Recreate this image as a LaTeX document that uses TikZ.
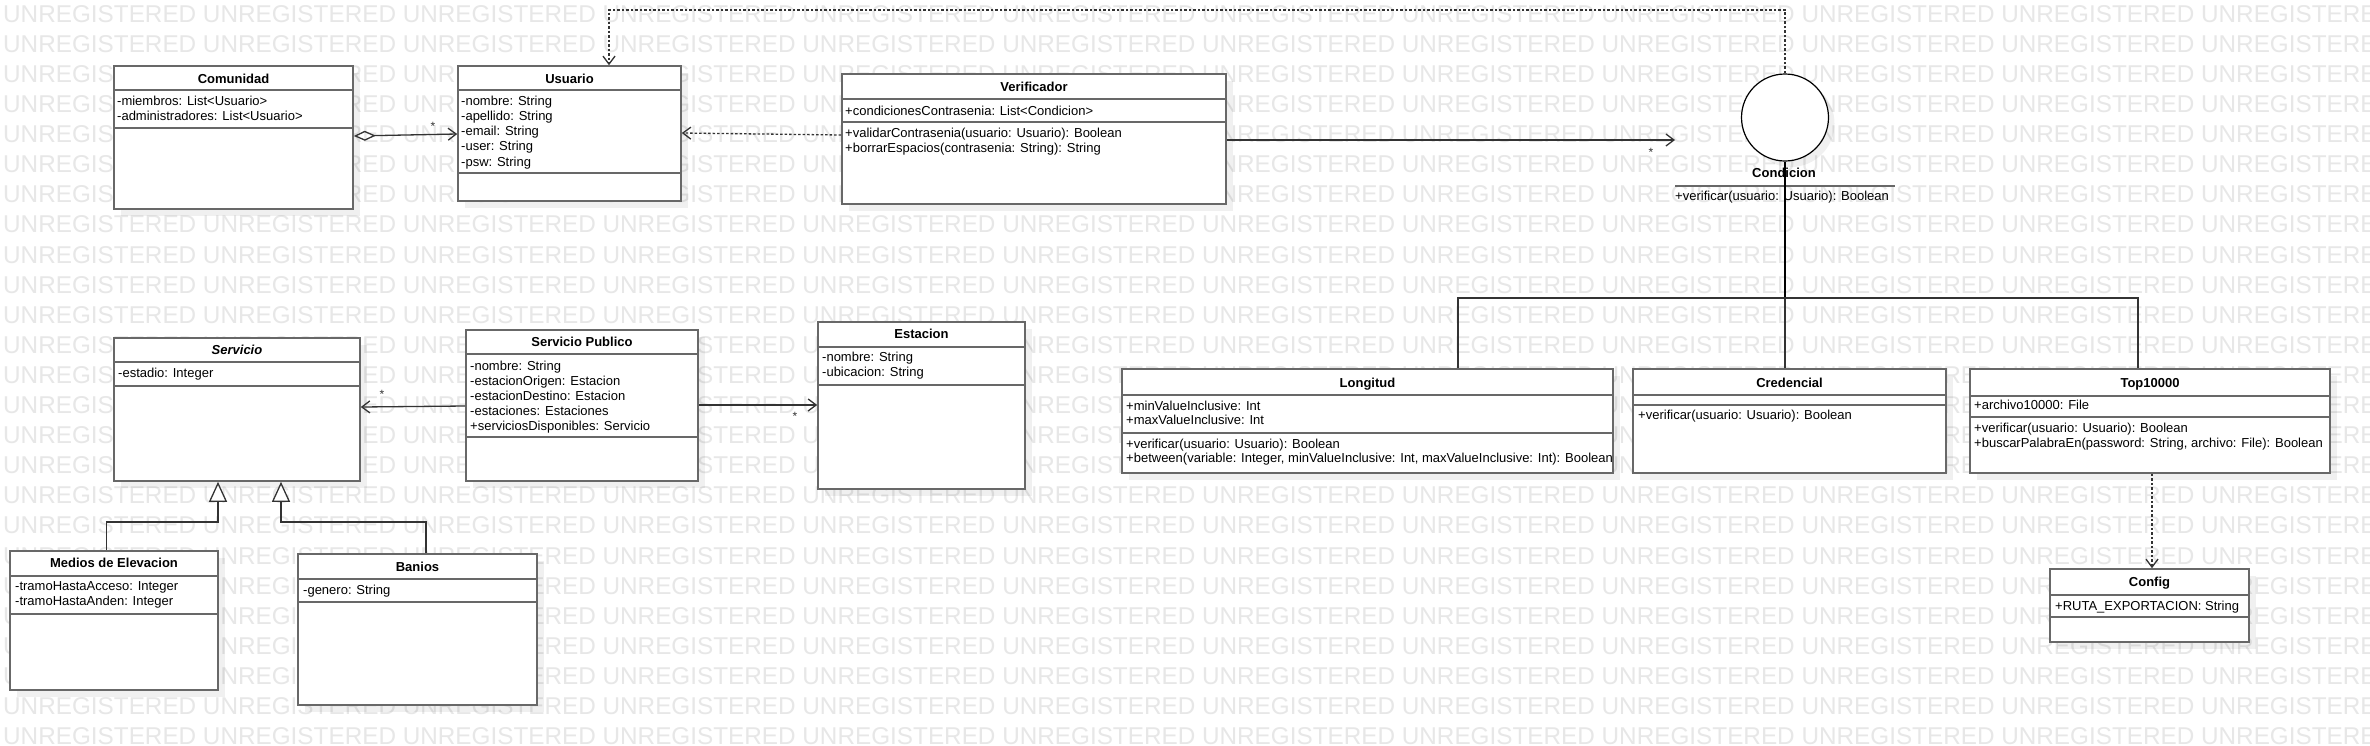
\documentclass[tikz,border=0pt]{standalone}
\usepackage{fontspec}
\setmainfont{Liberation Sans}
\usetikzlibrary{arrows.meta,fit,calc}
\definecolor{wmc}{HTML}{E7E7E7}
\definecolor{bordc}{HTML}{686868}
\definecolor{linec}{HTML}{333333}
\tikzset{
  cls/.style={draw=bordc, line width=1.6pt, fill=white, inner sep=0pt, rectangle},
  sepl/.style={draw=bordc, line width=1.6pt},
  shad/.style={fill=black, fill opacity=0.06},
  ttl/.style={font=\fontsize{13}{15}\selectfont\bfseries, anchor=base, inner sep=0pt},
  ln/.style={font=\fontsize{13}{15}\selectfont, anchor=base west, inner sep=0pt},
  mult/.style={font=\fontsize{12}{13}\selectfont, inner sep=0pt, text=linec},
  conn/.style={draw=linec, line width=1.3pt},
  openarr/.style={-{Straight Barb[length=8pt,width=12pt,line width=1.3pt]}},
  dep/.style={conn, dash pattern=on 2.5pt off 2pt},
  genarr/.style={-{Triangle[length=20pt,width=18pt,line width=1.3pt,fill=white]}},
  wm/.style={font=\fontsize{24.3}{26}\selectfont, text=wmc, anchor=base west, inner sep=0pt},
}
\newcommand\umlclass[6]{%
  \fill[shad] (#2+7,#3+7) rectangle (#4+7,#5+7);
  \coordinate (#1-nw) at (#2,#3);
  \coordinate (#1-se) at (#4,#5);
  \node[cls, fit=(#1-nw)(#1-se)] (#1) {};
  \foreach \s in {#6} {\draw[sepl] (#1.west |- 0,\s) -- (#1.east |- 0,\s);}
}
\newcommand\umltext[5]{%
  \foreach \t [count=\i from 0] in {#5} {\node[ln] (#1-\i) at (#2, #3+#4*\i) {\t};}
}
\begin{document}
\begin{tikzpicture}[x=1pt,y=-1pt]
\useasboundingbox (0,0) rectangle (2370,745);
\fill[white] (0,0) rectangle (2370,745);
% watermark
\begin{scope}
  \clip (0,0) rectangle (2370,745);
  \foreach \k in {0,...,24} {
    \node[wm] (wm\k) at (3, 22.2+30.1*\k) {UNREGISTERED UNREGISTERED UNREGISTERED UNREGISTERED UNREGISTERED UNREGISTERED UNREGISTERED UNREGISTERED UNREGISTERED UNREGISTERED UNREGISTERED UNREGISTERED};
  }
\end{scope}

% Comunidad
\umlclass{comunidad}{114}{66}{353}{209}{90,128}
\node[ttl] (comunidad-t) at (233.5,83.5) {Comunidad};
\umltext{comunidad-a}{117}{105}{15.4}{-miembros: List<Usuario>, -administradores: List<Usuario>}

% Usuario
\umlclass{usuario}{458}{66}{681}{201}{90,173}
\node[ttl] (usuario-t) at (569.5,83.5) {Usuario};
\umltext{usuario-a}{461}{105}{15.3}{-nombre: String, -apellido: String, -email: String, -user: String, -psw: String}

% Verificador
\umlclass{verificador}{842}{74}{1226}{204}{99,122}
\node[ttl] (verificador-t) at (1034,91.8) {Verificador};
\umltext{verificador-a}{845}{115.7}{15}{+condicionesContrasenia: List<Condicion>}
\umltext{verificador-m}{845}{137.3}{15}{+validarContrasenia(usuario: Usuario): Boolean, +borrarEspacios(contrasenia: String): String}

% Condicion (interface)
\fill[shad] (1791,123.5) circle (43.5);
\node[circle, draw=black, line width=1.2pt, fill=white, minimum size=87pt, inner sep=0pt] (condicion) at (1785,117.5) {};
\node[ttl] (condicion-t) at (1784,177.8) {Condicion};
\node[ln] (condicion-op) at (1675,200.7) {+verificar(usuario: Usuario): Boolean};
\draw[sepl] (condicion-op.west |- 0,185.7) -- (1895,185.7);

% Servicio
\umlclass{servicio}{114}{338}{360}{481}{362,386}
\node[ttl] (servicio-t) at (237,354.5) {\itshape Servicio};
\umltext{servicio-a}{118}{377.3}{15}{-estadio: Integer}

% Servicio Publico
\umlclass{sp}{466}{330}{698}{481}{354,437}
\node[ttl] (sp-t) at (582,346.5) {Servicio Publico};
\umltext{sp-a}{470}{370}{15}{-nombre: String, -estacionOrigen: Estacion, -estacionDestino: Estacion, -estaciones: Estaciones, +serviciosDisponibles: Servicio}

% Estacion
\umlclass{estacion}{818}{322}{1025}{489}{347,385}
\node[ttl] (estacion-t) at (921.5,338.8) {Estacion};
\umltext{estacion-a}{822}{361.7}{14.5}{-nombre: String, -ubicacion: String}

% Longitud
\umlclass{longitud}{1122}{369}{1613}{473}{395,433}
\node[ttl] (longitud-t) at (1367.5,387.2) {Longitud};
\umltext{longitud-a}{1126}{410}{14.5}{+minValueInclusive: Int, +maxValueInclusive: Int}
\umltext{longitud-m}{1126}{448}{14.5}{+verificar(usuario: Usuario): Boolean, {+between(variable: Integer, minValueInclusive: Int, maxValueInclusive: Int): Boolean}}

% Credencial
\umlclass{credencial}{1633}{369}{1946}{473}{395,405}
\node[ttl] (credencial-t) at (1789.5,387.2) {Credencial};
\umltext{credencial-m}{1638}{419.7}{15}{+verificar(usuario: Usuario): Boolean}

% Top10000
\umlclass{top}{1970}{369}{2330}{473}{396,417}
\node[ttl] (top-t) at (2150,387.2) {Top10000};
\umltext{top-a}{1974}{409.7}{15}{+archivo10000: File}
\umltext{top-m}{1974}{432.3}{15}{+verificar(usuario: Usuario): Boolean, {+buscarPalabraEn(password: String, archivo: File): Boolean}}

% Config
\umlclass{config}{2050}{569}{2249}{642}{595,617}
\node[ttl] (config-t) at (2149.5,586.8) {Config};
\umltext{config-a}{2055}{610}{15}{+RUTA\_EXPORTACION: String}

% Medios de Elevacion
\umlclass{medios}{10}{551}{218}{690}{576,614}
\node[ttl] (medios-t) at (114,567.8) {Medios de Elevacion};
\umltext{medios-a}{15}{590.7}{15}{-tramoHastaAcceso: Integer, -tramoHastaAnden: Integer}

% Banios
\umlclass{banios}{298}{554}{537}{705}{579,602}
\node[ttl] (banios-t) at (417.5,571.2) {Banios};
\umltext{banios-a}{303}{594}{15}{-genero: String}

% ---------------- connectors ----------------
% Comunidad <>--> Usuario
\draw[conn, {Diamond[open,length=22pt,width=10pt,line width=1.3pt]}-{Straight Barb[length=8pt,width=12pt,line width=1.3pt]}]
  (comunidad.east |- 0,136) -- (usuario.west |- 0,134);
\node[mult] (m-usuario) at (433,126) {*};

% Verificador ..> Usuario
\draw[dep, openarr] (verificador.west |- 0,135) -- (usuario.east |- 0,133);

% Condicion ..> Usuario (top)
\draw[dep, openarr] (condicion.north) -- (condicion.north |- 0,10) -- (609,10) -- (usuario.north -| 609,0);

% Verificador --> Condicion
\draw[conn, openarr] (verificador.east |- 0,140) -- (condicion-op.west |- 0,140);
\node[mult] (m-cond) at (1651,152) {*};

% Condicion realizations
\draw[draw=black, line width=1.8pt] (condicion.south) -- (condicion.south |- 0,298);
\draw[conn] (condicion.south |- 0,298) -- (credencial.north -| condicion.south);
\draw[conn] (longitud.north -| 1458,0) -- (1458,298) -- (2138,298) -- (top.north -| 2138,0);

% Servicio Publico --> Servicio
\draw[conn, openarr] (sp.west |- 0,406) -- (servicio.east |- 0,407);
\node[mult] (m-serv) at (382,394) {*};

% Servicio Publico --> Estacion
\draw[conn, openarr] (sp.east |- 0,405) -- (estacion.west |- 0,405);
\node[mult] (m-est) at (795,416) {*};

% Generalizations
\draw[conn, genarr] (medios.north -| 106.5,0) -- (106.5,522) -- (218,522) -- (servicio.south -| 218,0);
\draw[conn, genarr] (banios.north -| 426,0) -- (426,522) -- (281,522) -- (servicio.south -| 281,0);

% Top10000 ..> Config
\draw[dep, openarr] (top.south -| 2152,0) -- (config.north -| 2152,0);
\end{tikzpicture}
\end{document}
